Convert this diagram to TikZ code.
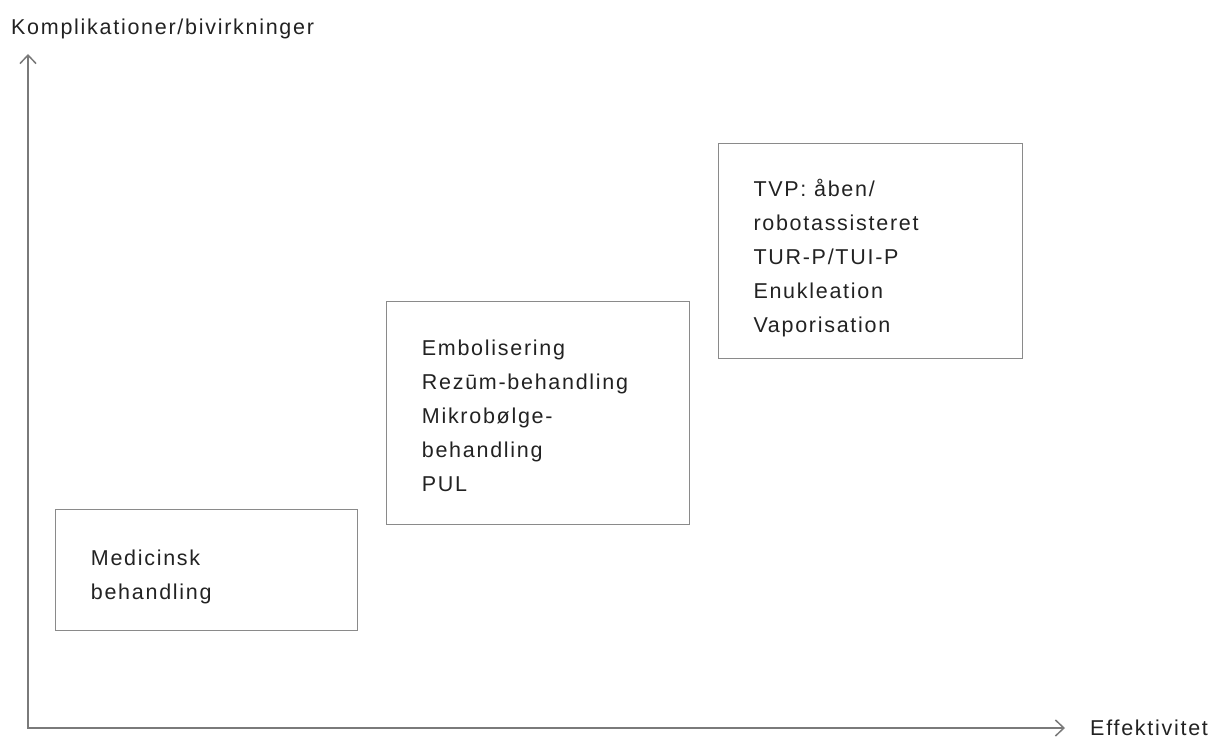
\documentclass[tikz,border=0pt]{standalone}
\usepackage{fontspec}
\setmainfont{Liberation Sans}[LetterSpace=8]
\usetikzlibrary{arrows.meta}
\definecolor{txtc}{HTML}{222222}
\definecolor{boxc}{HTML}{8A8A8A}
\definecolor{axc}{HTML}{7A7A7A}
\begin{document}
\begin{tikzpicture}[x=1pt,y=-1pt,
  box/.style={draw=boxc,line width=1.3pt,rectangle,inner sep=0pt,anchor=north west},
  lbl/.style={text=txtc,font=\fontsize{21.5}{34}\selectfont,inner sep=0pt,align=left,anchor=north west},
  axis/.style={draw=axc,line width=1.8pt,line join=miter,
    arrows={Straight Barb[length=8.5pt,width=16pt,line width=1.5pt]-Straight Barb[length=8.5pt,width=16pt,line width=1.5pt]}}]
\useasboundingbox (0,0) rectangle (1215,738);
\coordinate (ytop) at (28,54);
\coordinate (o) at (28,728);
\coordinate (xend) at (1065,728);
\draw[axis] (ytop) -- (o) -- (xend);
\node[lbl,anchor=base west] (ylab) at (11,35) {Komplikationer/bivirkninger};
\node[lbl,anchor=base west] (xlab) at (1090,735) {Effektivitet};
\node[box,minimum width=302pt,minimum height=121pt] (b1) at (55,509) {};
\node[box,minimum width=303pt,minimum height=223pt] (b2) at (386,301) {};
\node[box,minimum width=304pt,minimum height=215pt] (b3) at (718,143) {};
\node[lbl] (t1) at ([shift={(35.7,38)}]b1.north west) {\rule{0pt}{18pt}Medicinsk\\behandling};
\node[lbl] (t2) at ([shift={(35.7,36.7)}]b2.north west) {\rule{0pt}{18pt}Embolisering\\Rezūm-behandling\\Mikrobølge-\\behandling\\PUL};
\node[lbl] (t3) at ([shift={(35.3,35)}]b3.north west) {\rule{0pt}{18pt}TVP: åben/\\robotassisteret\\TUR-P/TUI-P\\Enukleation\\Vaporisation};
\end{tikzpicture}
\end{document}
